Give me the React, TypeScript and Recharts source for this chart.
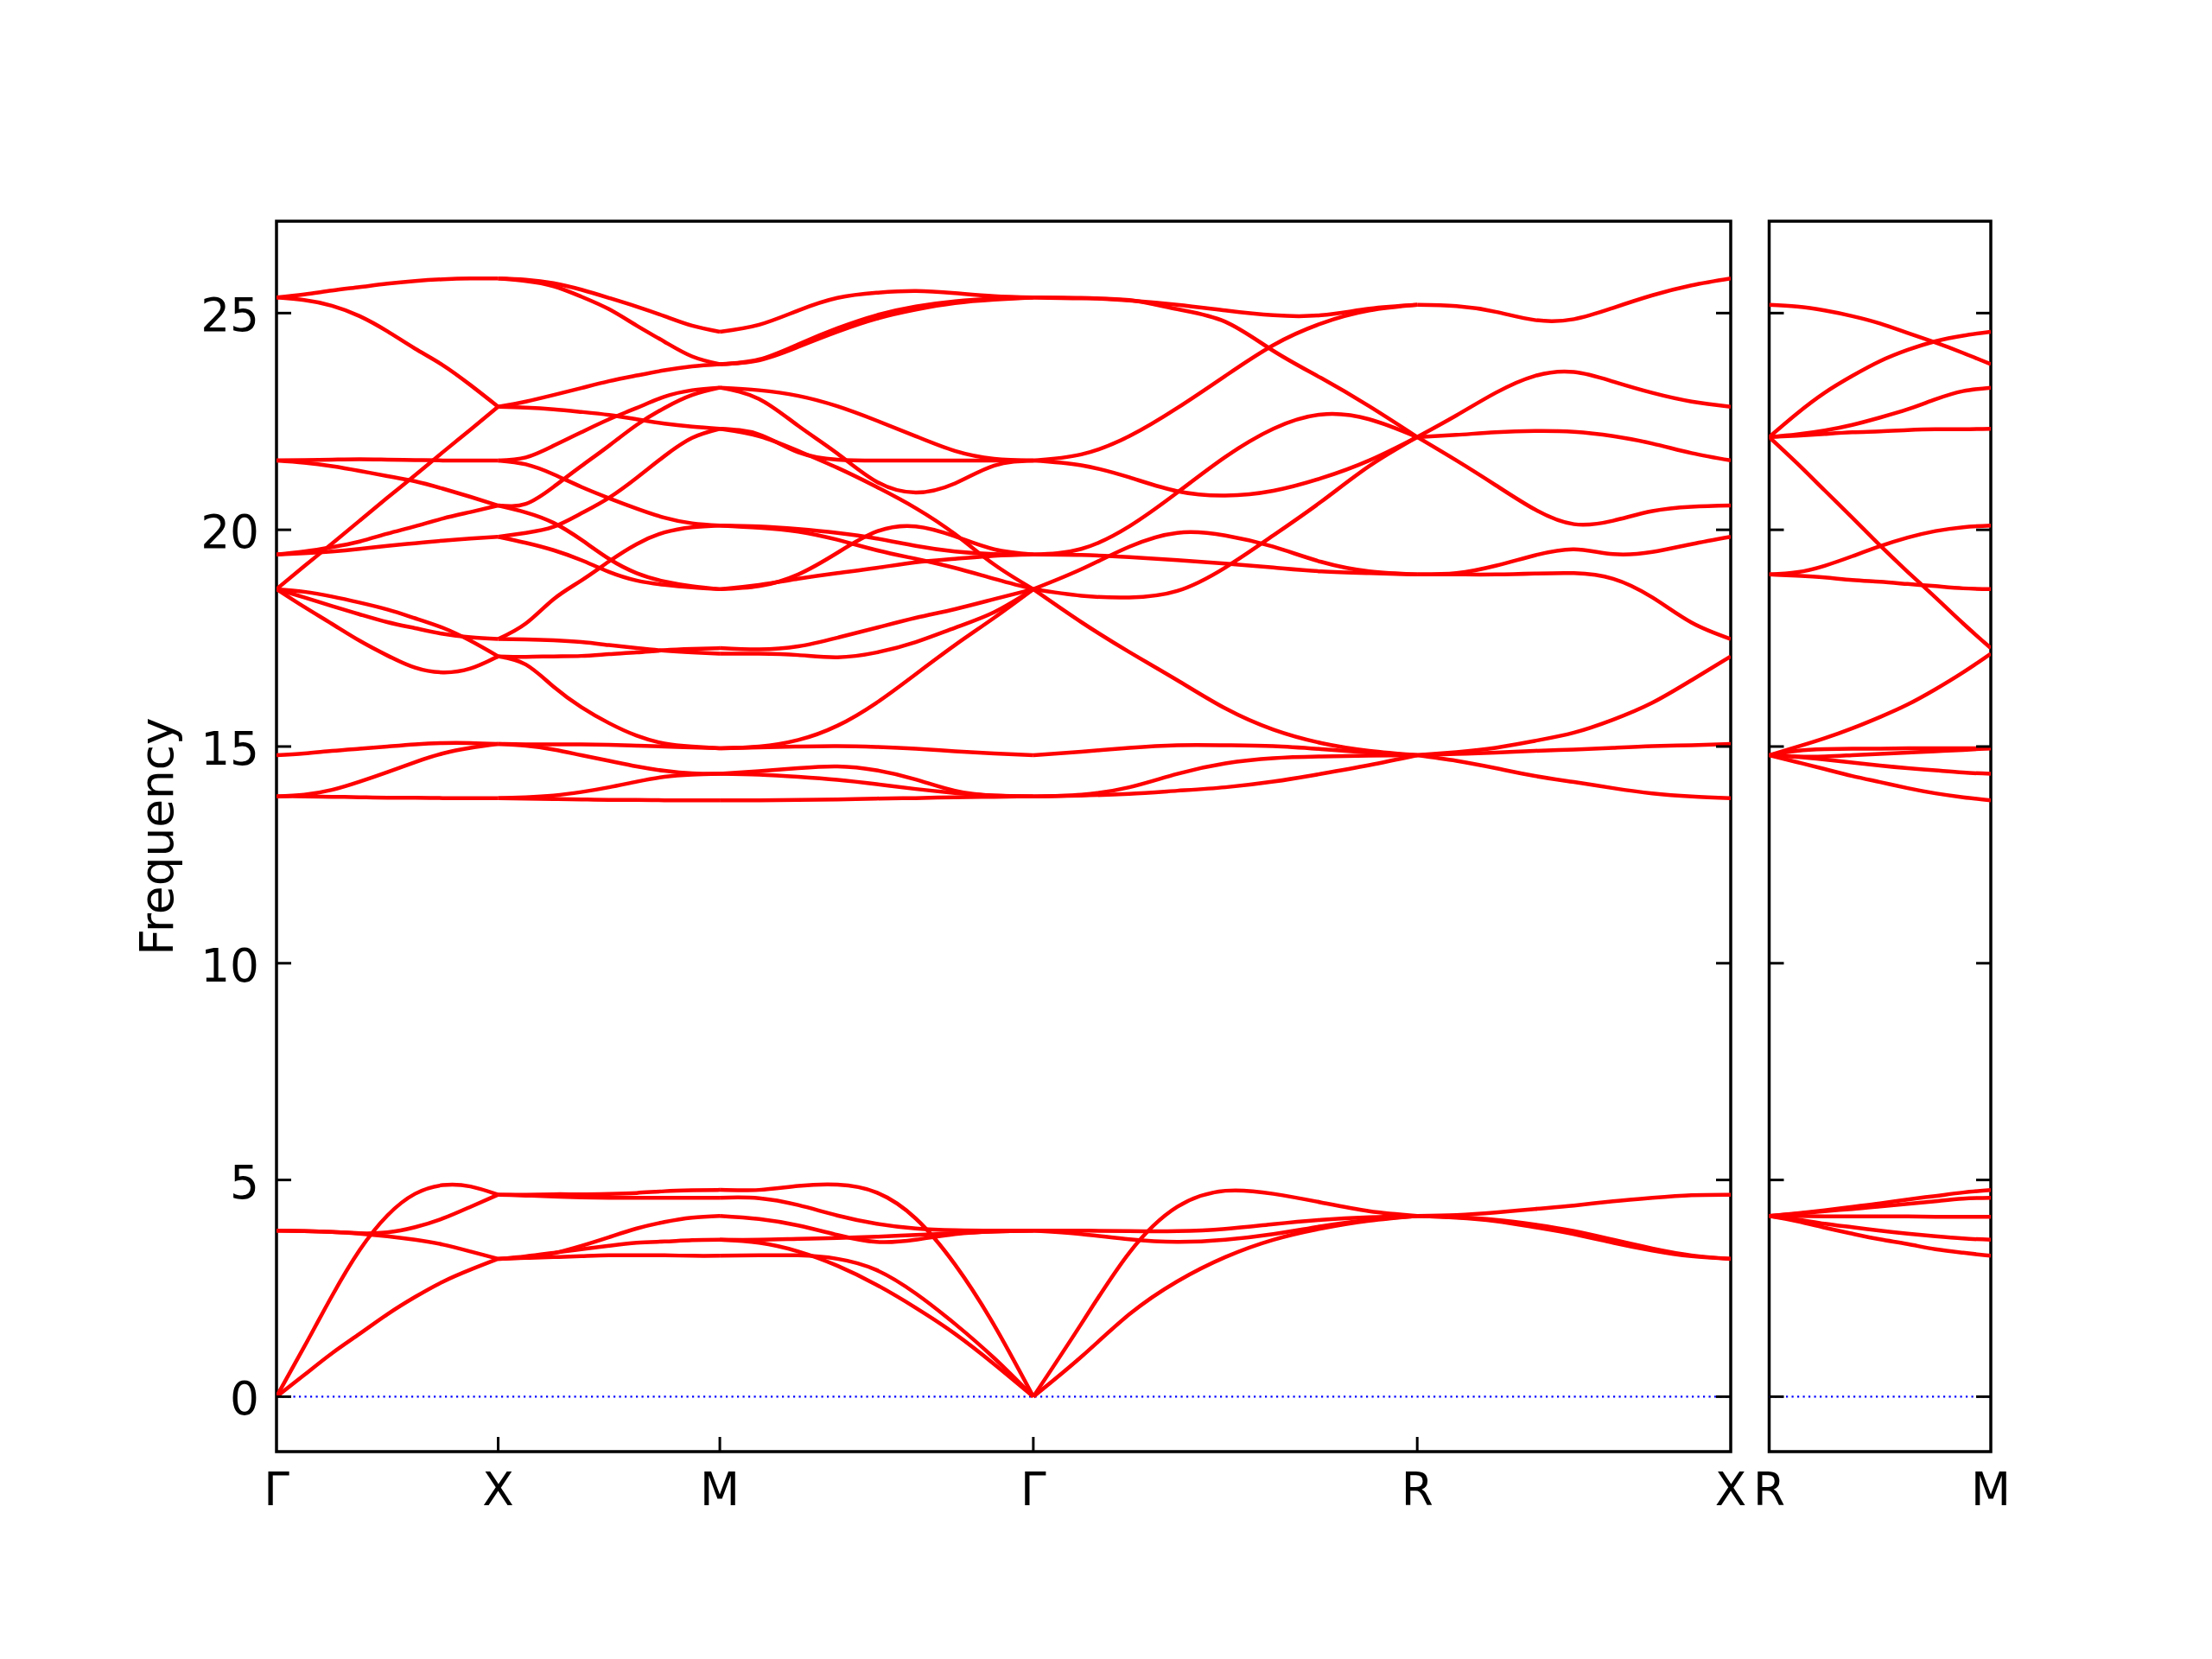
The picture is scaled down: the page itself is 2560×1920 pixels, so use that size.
import React from 'react';
import { LineChart, Line, XAxis, YAxis, ReferenceLine, ReferenceArea, Label } from 'recharts';

// ---------- axes ----------
const Y_MIN = -1.268;
const Y_MAX = 27.12;
const yTicks = [0, 5, 10, 15, 20, 25];
const leftKTicks = [0, 0.5, 1.0, 1.7071, 2.5731, 3.2802];
const leftKLabels = ['Γ', 'X', 'M', 'Γ', 'R', 'X'];
const rightKTicks = [0, 0.5];
const rightKLabels = ['R', 'M'];

// ---------- bands, sampled at 9 equally spaced points along each path segment ----------
// Γ → X
const GX_OPT = [
  [25.36, 25.43, 25.52, 25.6, 25.68, 25.74, 25.78, 25.8, 25.8],
  [25.36, 25.3, 25.17, 24.93, 24.58, 24.18, 23.8, 23.34, 22.84],
  [21.6, 21.61, 21.62, 21.63, 21.62, 21.61, 21.6, 21.6, 21.6],
  [21.6, 21.55, 21.47, 21.36, 21.24, 21.12, 20.95, 20.76, 20.56],
  [19.43, 19.5, 19.6, 19.73, 19.91, 20.08, 20.26, 20.41, 20.56],
  [19.43, 19.46, 19.5, 19.56, 19.63, 19.69, 19.75, 19.8, 19.84],
  [18.63, 19.16, 19.68, 20.21, 20.74, 21.26, 21.79, 22.31, 22.84],
  [18.63, 18.44, 18.24, 18.05, 17.87, 17.73, 17.6, 17.52, 17.48],
  [18.63, 18.57, 18.46, 18.32, 18.16, 17.96, 17.74, 17.44, 17.08],
  [18.63, 18.22, 17.83, 17.44, 17.1, 16.82, 16.71, 16.8, 17.08],
  [14.8, 14.84, 14.9, 14.95, 15.0, 15.05, 15.08, 15.08, 15.06],
  [13.85, 13.89, 14.0, 14.19, 14.41, 14.64, 14.84, 14.97, 15.06],
  [13.85, 13.85, 13.84, 13.83, 13.82, 13.82, 13.81, 13.81, 13.81],
];
const GX_AC = [
  [3.83, 3.82, 3.8, 3.77, 3.79, 3.91, 4.11, 4.38, 4.66],
  [3.83, 3.82, 3.8, 3.76, 3.7, 3.62, 3.51, 3.35, 3.18],
  [0, 1.15, 2.32, 3.38, 4.18, 4.68, 4.88, 4.85, 4.66],
  [0, 0.5, 1.0, 1.45, 1.9, 2.3, 2.65, 2.93, 3.18],
];
// X → M
const XM_OPT = [
  [25.8, 25.77, 25.69, 25.54, 25.35, 25.15, 24.93, 24.71, 24.57],
  [25.8, 25.74, 25.62, 25.38, 25.09, 24.71, 24.34, 24.0, 23.82],
  [22.84, 22.96, 23.11, 23.27, 23.43, 23.56, 23.68, 23.77, 23.82],
  [22.84, 22.82, 22.78, 22.72, 22.65, 22.55, 22.45, 22.38, 22.33],
  [21.6, 21.67, 21.94, 22.25, 22.55, 22.81, 23.07, 23.22, 23.28],
  [21.6, 21.51, 21.28, 20.99, 20.73, 20.49, 20.28, 20.15, 20.1],
  [20.56, 20.6, 20.99, 21.47, 21.94, 22.42, 22.81, 23.11, 23.28],
  [20.56, 20.4, 20.16, 19.77, 19.33, 19.0, 18.81, 18.7, 18.63],
  [19.84, 19.93, 20.07, 20.38, 20.74, 21.2, 21.7, 22.12, 22.33],
  [19.84, 19.7, 19.53, 19.3, 19.03, 18.83, 18.73, 18.67, 18.63],
  [17.48, 17.84, 18.4, 18.83, 19.27, 19.67, 19.94, 20.06, 20.1],
  [17.48, 17.47, 17.45, 17.41, 17.34, 17.27, 17.21, 17.17, 17.14],
  [17.08, 17.07, 17.08, 17.09, 17.13, 17.17, 17.22, 17.25, 17.27],
  [17.08, 16.89, 16.38, 15.91, 15.54, 15.25, 15.07, 15.0, 14.96],
  [15.06, 15.05, 15.05, 15.05, 15.04, 15.02, 15.0, 14.98, 14.96],
  [15.06, 15.02, 14.93, 14.8, 14.67, 14.54, 14.44, 14.38, 14.37],
  [13.81, 13.83, 13.87, 13.95, 14.06, 14.19, 14.3, 14.35, 14.37],
  [13.81, 13.8, 13.79, 13.78, 13.77, 13.77, 13.76, 13.76, 13.76],
];
const XM_AC = [
  [4.66, 4.66, 4.67, 4.67, 4.68, 4.7, 4.74, 4.76, 4.77],
  [4.66, 4.64, 4.62, 4.6, 4.59, 4.59, 4.59, 4.59, 4.59],
  [3.18, 3.21, 3.31, 3.48, 3.68, 3.88, 4.03, 4.13, 4.17],
  [3.18, 3.24, 3.32, 3.4, 3.48, 3.55, 3.58, 3.61, 3.62],
  [3.18, 3.2, 3.22, 3.24, 3.26, 3.26, 3.26, 3.25, 3.25],
];
// M → Γ
const MG_OPT = [
  [24.57, 24.73, 25.06, 25.35, 25.47, 25.51, 25.46, 25.39, 25.36],
  [23.82, 23.93, 24.28, 24.65, 24.95, 25.15, 25.27, 25.33, 25.36],
  [23.82, 23.91, 24.22, 24.57, 24.87, 25.08, 25.23, 25.31, 25.36],
  [23.28, 23.22, 23.09, 22.85, 22.52, 22.16, 21.82, 21.64, 21.6],
  [23.28, 23.02, 22.4, 21.76, 21.11, 20.86, 21.07, 21.48, 21.6],
  [22.33, 22.2, 21.79, 21.62, 21.6, 21.6, 21.6, 21.6, 21.6],
  [22.33, 22.16, 21.82, 21.43, 20.99, 20.5, 19.9, 19.2, 18.63],
  [20.1, 20.08, 20.02, 19.93, 19.8, 19.63, 19.5, 19.44, 19.43],
  [20.1, 20.05, 19.96, 19.77, 19.53, 19.33, 19.12, 18.87, 18.63],
  [18.63, 18.7, 18.97, 19.47, 19.96, 20.08, 19.85, 19.55, 19.43],
  [18.63, 18.73, 18.87, 19.0, 19.12, 19.25, 19.33, 19.4, 19.43],
  [17.27, 17.24, 17.31, 17.51, 17.74, 17.97, 18.17, 18.4, 18.63],
  [17.14, 17.14, 17.11, 17.06, 17.17, 17.41, 17.74, 18.1, 18.63],
  [14.96, 15.0, 15.15, 15.48, 16.01, 16.67, 17.34, 17.97, 18.63],
  [14.96, 14.98, 15.0, 15.01, 14.99, 14.95, 14.89, 14.84, 14.8],
  [14.37, 14.43, 14.5, 14.54, 14.45, 14.24, 13.98, 13.87, 13.85],
  [14.37, 14.35, 14.3, 14.23, 14.13, 14.02, 13.93, 13.87, 13.85],
  [13.76, 13.76, 13.77, 13.78, 13.8, 13.81, 13.83, 13.84, 13.85],
];
const MG_AC = [
  [4.77, 4.77, 4.86, 4.89, 4.71, 4.11, 3.05, 1.65, 0],
  [4.59, 4.58, 4.42, 4.18, 3.99, 3.88, 3.84, 3.83, 3.83],
  [4.17, 4.1, 3.95, 3.73, 3.57, 3.62, 3.75, 3.81, 3.83],
  [3.62, 3.62, 3.64, 3.66, 3.69, 3.73, 3.77, 3.81, 3.83],
  [3.62, 3.55, 3.35, 3.02, 2.58, 2.05, 1.45, 0.75, 0],
  [3.25, 3.26, 3.26, 3.18, 2.92, 2.38, 1.68, 0.89, 0],
];
// Γ → R
const GR_OPT = [
  [25.36, 25.35, 25.29, 25.19, 25.06, 24.95, 24.95, 25.1, 25.19],
  [25.36, 25.34, 25.3, 25.09, 24.8, 24.13, 23.5, 22.85, 22.14],
  [21.6, 21.74, 22.16, 22.81, 23.55, 24.26, 24.76, 25.06, 25.19],
  [21.6, 21.49, 21.21, 20.89, 20.79, 20.9, 21.19, 21.6, 22.14],
  [19.43, 19.56, 20.08, 20.86, 21.68, 22.33, 22.66, 22.55, 22.14],
  [19.43, 19.42, 19.37, 19.3, 19.22, 19.13, 19.04, 19.0, 18.97],
  [18.63, 19.09, 19.61, 19.93, 19.87, 19.61, 19.26, 19.04, 18.97],
  [18.63, 18.48, 18.44, 18.59, 19.13, 19.87, 20.65, 21.47, 22.14],
  [18.63, 17.87, 17.18, 16.53, 15.88, 15.39, 15.08, 14.9, 14.8],
  [14.8, 14.88, 14.97, 15.03, 15.03, 15.01, 14.94, 14.86, 14.8],
  [13.85, 13.89, 14.06, 14.37, 14.61, 14.73, 14.77, 14.79, 14.8],
  [13.85, 13.87, 13.91, 13.98, 14.06, 14.19, 14.37, 14.57, 14.8],
];
const GR_AC = [
  [3.83, 3.83, 3.82, 3.82, 3.87, 3.98, 4.08, 4.14, 4.17],
  [3.83, 3.75, 3.63, 3.57, 3.62, 3.75, 3.93, 4.08, 4.17],
  [0, 1.68, 3.32, 4.38, 4.75, 4.68, 4.48, 4.28, 4.17],
  [0, 0.92, 1.9, 2.66, 3.22, 3.62, 3.88, 4.06, 4.17],
];
// R → X
const RX_OPT = [
  [25.19, 25.16, 25.03, 24.84, 24.86, 25.12, 25.41, 25.64, 25.8],
  [22.14, 22.64, 23.16, 23.55, 23.64, 23.42, 23.16, 22.96, 22.84],
  [22.14, 22.19, 22.25, 22.28, 22.26, 22.16, 21.99, 21.77, 21.6],
  [22.14, 21.6, 21.03, 20.47, 20.13, 20.21, 20.43, 20.53, 20.56],
  [18.97, 19.0, 19.17, 19.41, 19.55, 19.44, 19.49, 19.67, 19.84],
  [18.97, 18.97, 18.97, 18.99, 19.0, 18.87, 18.44, 17.86, 17.48],
  [14.8, 14.87, 14.97, 15.13, 15.32, 15.62, 16.01, 16.53, 17.08],
  [14.8, 14.83, 14.86, 14.9, 14.93, 14.97, 15.01, 15.03, 15.06],
  [14.8, 14.67, 14.5, 14.32, 14.18, 14.04, 13.92, 13.85, 13.81],
];
const RX_AC = [
  [4.17, 4.19, 4.25, 4.33, 4.41, 4.51, 4.59, 4.65, 4.66],
  [4.17, 4.13, 4.05, 3.91, 3.75, 3.55, 3.37, 3.24, 3.18],
  [4.17, 4.14, 4.08, 3.97, 3.82, 3.62, 3.42, 3.26, 3.18],
];
// R → M (right panel)
const RM_OPT = [
  [25.19, 25.15, 25.06, 24.93, 24.76, 24.54, 24.32, 24.08, 23.82],
  [22.14, 22.68, 23.16, 23.55, 23.89, 24.15, 24.35, 24.48, 24.57],
  [22.14, 22.2, 22.29, 22.42, 22.59, 22.78, 23.01, 23.2, 23.28],
  [22.14, 22.17, 22.21, 22.25, 22.27, 22.3, 22.32, 22.32, 22.33],
  [22.14, 21.54, 20.91, 20.28, 19.64, 19.03, 18.44, 17.84, 17.27],
  [18.97, 19.02, 19.17, 19.39, 19.62, 19.82, 19.97, 20.06, 20.1],
  [18.97, 18.94, 18.9, 18.84, 18.8, 18.75, 18.7, 18.65, 18.63],
  [14.8, 14.99, 15.19, 15.42, 15.68, 15.97, 16.32, 16.71, 17.14],
  [14.8, 14.9, 14.94, 14.95, 14.95, 14.96, 14.96, 14.96, 14.96],
  [14.8, 14.77, 14.77, 14.8, 14.83, 14.86, 14.89, 14.92, 14.96],
  [14.8, 14.76, 14.7, 14.63, 14.56, 14.5, 14.45, 14.4, 14.37],
  [14.8, 14.64, 14.48, 14.32, 14.18, 14.04, 13.92, 13.83, 13.76],
];
const RM_AC = [
  [4.17, 4.23, 4.3, 4.38, 4.46, 4.55, 4.63, 4.71, 4.77],
  [4.17, 4.22, 4.28, 4.33, 4.39, 4.45, 4.51, 4.57, 4.59],
  [4.17, 4.17, 4.16, 4.16, 4.16, 4.16, 4.15, 4.15, 4.15],
  [4.17, 4.09, 3.99, 3.91, 3.83, 3.76, 3.7, 3.65, 3.62],
  [4.17, 4.05, 3.9, 3.76, 3.63, 3.52, 3.4, 3.32, 3.25],
];

// path segments (start / end in path coordinate)
const leftSegments = [
  { start: 0, end: 0.5, bands: [...GX_OPT, ...GX_AC] },
  { start: 0.5, end: 1.0, bands: [...XM_OPT, ...XM_AC] },
  { start: 1.0, end: 1.7071, bands: [...MG_OPT, ...MG_AC] },
  { start: 1.7071, end: 2.5731, bands: [...GR_OPT, ...GR_AC] },
  { start: 2.5731, end: 3.2802, bands: [...RX_OPT, ...RX_AC] },
];
const rightSegments = [{ start: 0, end: 0.5, bands: [...RM_OPT, ...RM_AC] }];

type Pt = { k: number; f: number };
const buildSeries = (segs: { start: number; end: number; bands: number[][] }[]): Pt[][] =>
  segs.flatMap((seg) =>
    seg.bands.map((vals) =>
      vals.map((f, i) => ({ k: seg.start + ((seg.end - seg.start) * i) / (vals.length - 1), f }))
    )
  );

const leftSeries = buildSeries(leftSegments);
const rightSeries = buildSeries(rightSegments);

// ---------- styling ----------
const FONT = 'DejaVu Sans';
const FS = 53.3;
const TICK_LEN = 17;
const AX_W = 3.5;
const RED = '#ff0000';
const BLUE = '#0000ff';

const makeYTick = (side: 'left' | 'right', withLabel: boolean) => (props: any) => {
  const { x, y, payload } = props;
  const dir = side === 'left' ? 1 : -1;
  return (
    <g>
      <line x1={x} x2={x + dir * TICK_LEN} y1={y} y2={y} stroke="#000" strokeWidth={3} />
      {withLabel && (
        <text x={x - 20} y={y} dy={21} textAnchor="end" fontSize={FS} fontFamily={FONT} fill="#000">
          {payload.value}
        </text>
      )}
    </g>
  );
};

const makeXTick = (labels: string[], ticks: number[], marks: boolean) => (props: any) => {
  const { x, y, payload, index } = props;
  const i = typeof index === 'number' ? index : ticks.indexOf(payload.value);
  const interior = i > 0 && i < ticks.length - 1;
  return (
    <g>
      {marks && interior && <line x1={x} x2={x} y1={y} y2={y - TICK_LEN} stroke="#000" strokeWidth={3} />}
      <text x={x} y={y + 62} textAnchor="middle" fontSize={FS} fontFamily={FONT} fill="#000">
        {labels[i]}
      </text>
    </g>
  );
};

const FreqLabel = (props: any) => {
  const vb = props.viewBox || { x: 0, y: 256, width: 320, height: 1424 };
  const cx = vb.x + vb.width - 120;
  const cy = vb.y + vb.height / 2;
  return (
    <text
      x={cx}
      y={cy}
      transform={`rotate(-90, ${cx}, ${cy})`}
      textAnchor="middle"
      fontSize={FS}
      fontFamily={FONT}
      fill="#000"
    >
      Frequency
    </text>
  );
};

const CHART_W = 2560;
const CHART_H = 1920;
const PLOT_TOP = 256;
const PLOT_BOTTOM_GAP = 240;

const Panel = ({
  series,
  kTicks,
  kLabels,
  leftW,
  rightW,
  leftLabels,
  xMarks,
}: {
  series: Pt[][];
  kTicks: number[];
  kLabels: string[];
  leftW: number;
  rightW: number;
  leftLabels: boolean;
  xMarks: boolean;
}) => {
  const kMax = kTicks[kTicks.length - 1];
  return (
    <LineChart width={CHART_W} height={CHART_H} margin={{ top: PLOT_TOP, right: 0, bottom: 0, left: 0 }}>
      <XAxis
        xAxisId="b"
        type="number"
        dataKey="k"
        domain={[0, kMax]}
        ticks={kTicks}
        interval={0}
        height={PLOT_BOTTOM_GAP}
        tickSize={0}
        tickMargin={0}
        tickLine={false}
        axisLine={false}
        allowDataOverflow
        tick={makeXTick(kLabels, kTicks, xMarks)}
      />
      <YAxis
        yAxisId="l"
        type="number"
        domain={[Y_MIN, Y_MAX]}
        ticks={yTicks}
        interval={0}
        width={leftW}
        tickSize={0}
        tickMargin={0}
        tickLine={false}
        axisLine={false}
        allowDataOverflow
        tick={makeYTick('left', leftLabels)}
      >
        {leftLabels && <Label content={FreqLabel} />}
      </YAxis>
      <YAxis
        yAxisId="r"
        orientation="right"
        type="number"
        domain={[Y_MIN, Y_MAX]}
        ticks={yTicks}
        interval={0}
        width={rightW}
        tickSize={0}
        tickMargin={0}
        tickLine={false}
        axisLine={false}
        allowDataOverflow
        tick={makeYTick('right', false)}
      />
      <ReferenceLine
        xAxisId="b"
        yAxisId="l"
        y={0}
        stroke={BLUE}
        strokeWidth={2.2}
        strokeDasharray="2.2 4.3"
        ifOverflow="visible"
      />
      {series.map((d, i) => (
        <Line
          key={i}
          xAxisId="b"
          yAxisId="l"
          data={d}
          dataKey="f"
          type="natural"
          dot={false}
          activeDot={false}
          stroke={RED}
          strokeWidth={4.5}
          isAnimationActive={false}
        />
      ))}
      <ReferenceArea
        xAxisId="b"
        yAxisId="l"
        x1={0}
        x2={kMax}
        y1={Y_MIN}
        y2={Y_MAX}
        fill="none"
        fillOpacity={0}
        stroke="#000"
        strokeWidth={AX_W}
        ifOverflow="visible"
      />
    </LineChart>
  );
};

export default function App() {
  return (
    <div style={{ position: 'absolute', left: 0, top: 0, width: CHART_W, height: CHART_H, background: '#fff' }}>
      <div style={{ position: 'absolute', left: 0, top: 0 }}>
        <Panel
          series={leftSeries}
          kTicks={leftKTicks}
          kLabels={leftKLabels}
          leftW={320}
          rightW={557}
          leftLabels={true}
          xMarks={true}
        />
      </div>
      <div style={{ position: 'absolute', left: 0, top: 0 }}>
        <Panel
          series={rightSeries}
          kTicks={rightKTicks}
          kLabels={rightKLabels}
          leftW={2047.5}
          rightW={256}
          leftLabels={false}
          xMarks={false}
        />
      </div>
    </div>
  );
}
